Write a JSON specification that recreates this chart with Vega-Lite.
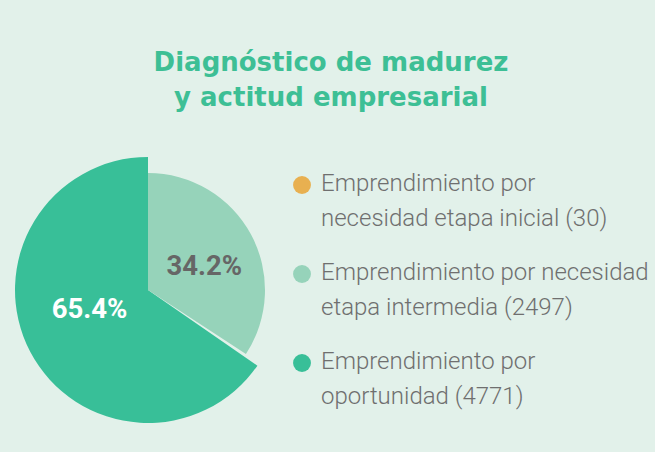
{
  "$schema": "https://vega.github.io/schema/vega-lite/v6.json",
  "width": 266,
  "height": 266,
  "autosize": {"type": "none"},
  "padding": {"left": 15, "top": 157, "right": 374, "bottom": 29},
  "background": "#e2f1ea",
  "title": {
    "text": ["Diagnóstico de madurez", "y actitud empresarial"],
    "anchor": "middle",
    "frame": "group",
    "dx": 183,
    "offset": 20,
    "baseline": "bottom",
    "font": "DejaVu Sans",
    "fontSize": 26,
    "fontWeight": "bold",
    "lineHeight": 35,
    "color": "#3dbf95"
  },
  "data": {
    "values": [
      {"categoria": "Emprendimiento por necesidad etapa intermedia", "valor": 2497, "pct": "34.2%", "orden": 1},
      {"categoria": "Emprendimiento por necesidad etapa inicial", "valor": 30, "pct": "0.4%", "orden": 2},
      {"categoria": "Emprendimiento por oportunidad", "valor": 4771, "pct": "65.4%", "orden": 3}
    ]
  },
  "encoding": {
    "theta": {"field": "valor", "type": "quantitative", "stack": true},
    "order": {"field": "orden", "type": "quantitative"}
  },
  "layer": [
    {
      "mark": {"type": "arc", "strokeWidth": 0, "outerRadius": 133},
      "encoding": {
        "color": {
          "field": "categoria",
          "type": "nominal",
          "scale": {
            "domain": ["Emprendimiento por necesidad etapa inicial", "Emprendimiento por necesidad etapa intermedia", "Emprendimiento por oportunidad"],
            "range": ["#e8b050", "#96d3ba", "#38bf98"]
          },
          "legend": {
            "title": null,
            "orient": "none",
            "legendX": 275,
            "legendY": 16,
            "padding": 0,
            "rowPadding": 30,
            "symbolType": "circle",
            "symbolSize": 320,
            "symbolStrokeWidth": 0,
            "symbolOpacity": 1,
            "labelFont": "Roboto",
            "labelFontWeight": 300,
            "labelFontSize": 24,
            "labelColor": "#6f6f6f",
            "labelLimit": 400,
            "labelOffset": 7,
            "labelBaseline": "top",
            "labelExpr": "datum.value == 'Emprendimiento por necesidad etapa inicial' ? ['Emprendimiento por', 'necesidad etapa inicial (30)'] : datum.value == 'Emprendimiento por necesidad etapa intermedia' ? ['Emprendimiento por necesidad', 'etapa intermedia (2497)'] : ['Emprendimiento por', 'oportunidad (4771)']",
            "encode": {"labels": {"update": {"lineHeight": {"value": 35}, "dy": {"value": -13}}}}
          }
        },
        "opacity": {
          "condition": {"test": "datum.categoria == 'Emprendimiento por oportunidad'", "value": 1},
          "value": 0
        }
      }
    },
    {
      "mark": {"type": "arc", "strokeWidth": 0, "outerRadius": 117},
      "encoding": {
        "color": {"field": "categoria", "type": "nominal"},
        "opacity": {
          "condition": {"test": "datum.categoria == 'Emprendimiento por necesidad etapa intermedia'", "value": 1},
          "value": 0
        }
      }
    },
    {
      "mark": {"type": "text", "font": "Roboto", "fontWeight": "bold", "fontSize": 27.5, "color": "#666666", "dy": 7},
      "encoding": {
        "radius": {"value": 64},
        "text": {
          "condition": {"test": "datum.categoria == 'Emprendimiento por necesidad etapa intermedia'", "field": "pct"},
          "value": ""
        }
      }
    },
    {
      "mark": {"type": "text", "font": "Roboto", "fontWeight": "bold", "fontSize": 27.5, "color": "#ffffff", "dy": -11},
      "encoding": {
        "radius": {"value": 66},
        "text": {
          "condition": {"test": "datum.categoria == 'Emprendimiento por oportunidad'", "field": "pct"},
          "value": ""
        }
      }
    }
  ],
  "config": {"view": {"stroke": null}}
}
